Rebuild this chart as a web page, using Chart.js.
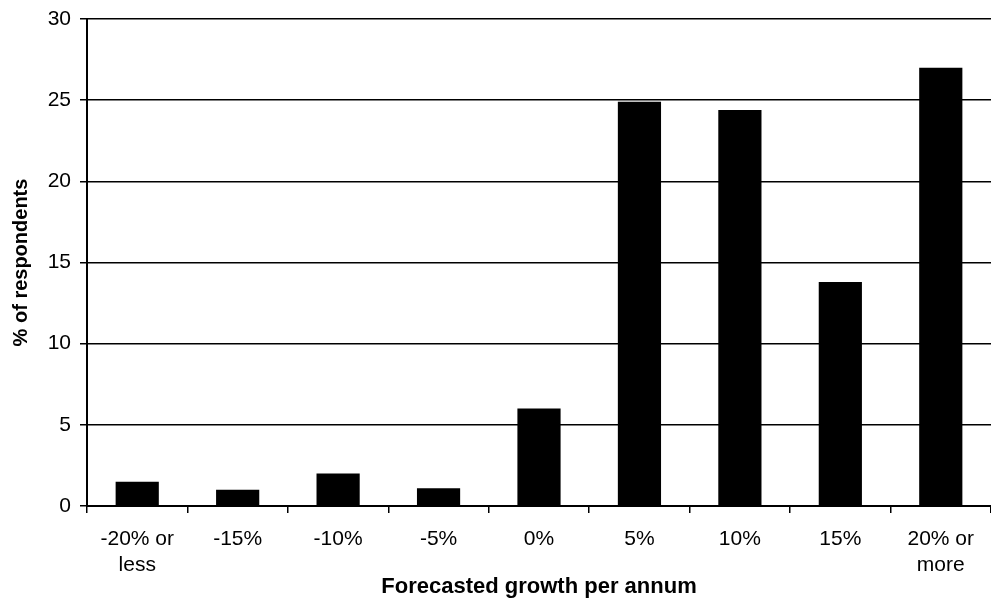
<!DOCTYPE html>
<html>
<head>
<meta charset="utf-8">
<script src="https://cdn.jsdelivr.net/npm/chart.js@4"></script>
<style>
  html, body { margin: 0; padding: 0; background: #fff; }
  #wrap { width: 991px; height: 598px; }
</style>
</head>
<body>
<div id="wrap"><canvas id="c" width="991" height="598"></canvas></div>
<script>
const categories = [["-20% or", "less"], "-15%", "-10%", "-5%", "0%", "5%", "10%", "15%", ["20% or", "more"]];
const respondents = [1.5, 1.0, 2.0, 1.1, 6.0, 24.9, 24.4, 13.8, 27.0];
const yTicks = [0, 5, 10, 15, 20, 25, 30];

const FONT = "'Liberation Sans', Arial, sans-serif";

new Chart(document.getElementById('c'), {
  type: 'bar',
  data: {
    labels: categories,
    datasets: [{
      data: respondents,
      backgroundColor: '#000',
      borderWidth: 0,
      categoryPercentage: 1.0,
      barPercentage: 0.43
    }]
  },
  options: {
    responsive: false,
    animation: false,
    layout: { padding: { top: 19, right: 0, left: 0, bottom: 0 } },
    plugins: { legend: { display: false }, tooltip: { enabled: false } },
    scales: {
      x: {
        grid: { offset: true, drawOnChartArea: false, color: '#000', lineWidth: 1.5, tickLength: 7 },
        border: { color: '#000', width: 2 },
        ticks: { color: '#000', font: { family: FONT, size: 21, lineHeight: 1.25 }, maxRotation: 0, autoSkip: false, padding: 13 },
        title: { display: true, text: 'Forecasted growth per annum', color: '#000',
                 font: { family: FONT, size: 22, weight: 'bold' }, padding: { top: 4, bottom: -2 } },
        afterFit(s) { s.height = 92; }
      },
      y: {
        min: 0, max: 30,
        afterBuildTicks(s) { s.ticks = yTicks.map(v => ({ value: v })); },
        grid: { color: '#000', lineWidth: 1.5, tickLength: 7 },
        border: { color: '#000', width: 2 },
        ticks: { color: '#000', font: { family: FONT, size: 21 }, padding: 9 },
        title: { display: true, text: '% of respondents', color: '#000',
                 font: { family: FONT, size: 20, weight: 'bold' }, padding: { top: 9, bottom: 4 } },
        afterFit(s) { s.width = 87; s.paddingTop = 0; s.paddingBottom = 0; }
      }
    }
  }
});
</script>
</body>
</html>
